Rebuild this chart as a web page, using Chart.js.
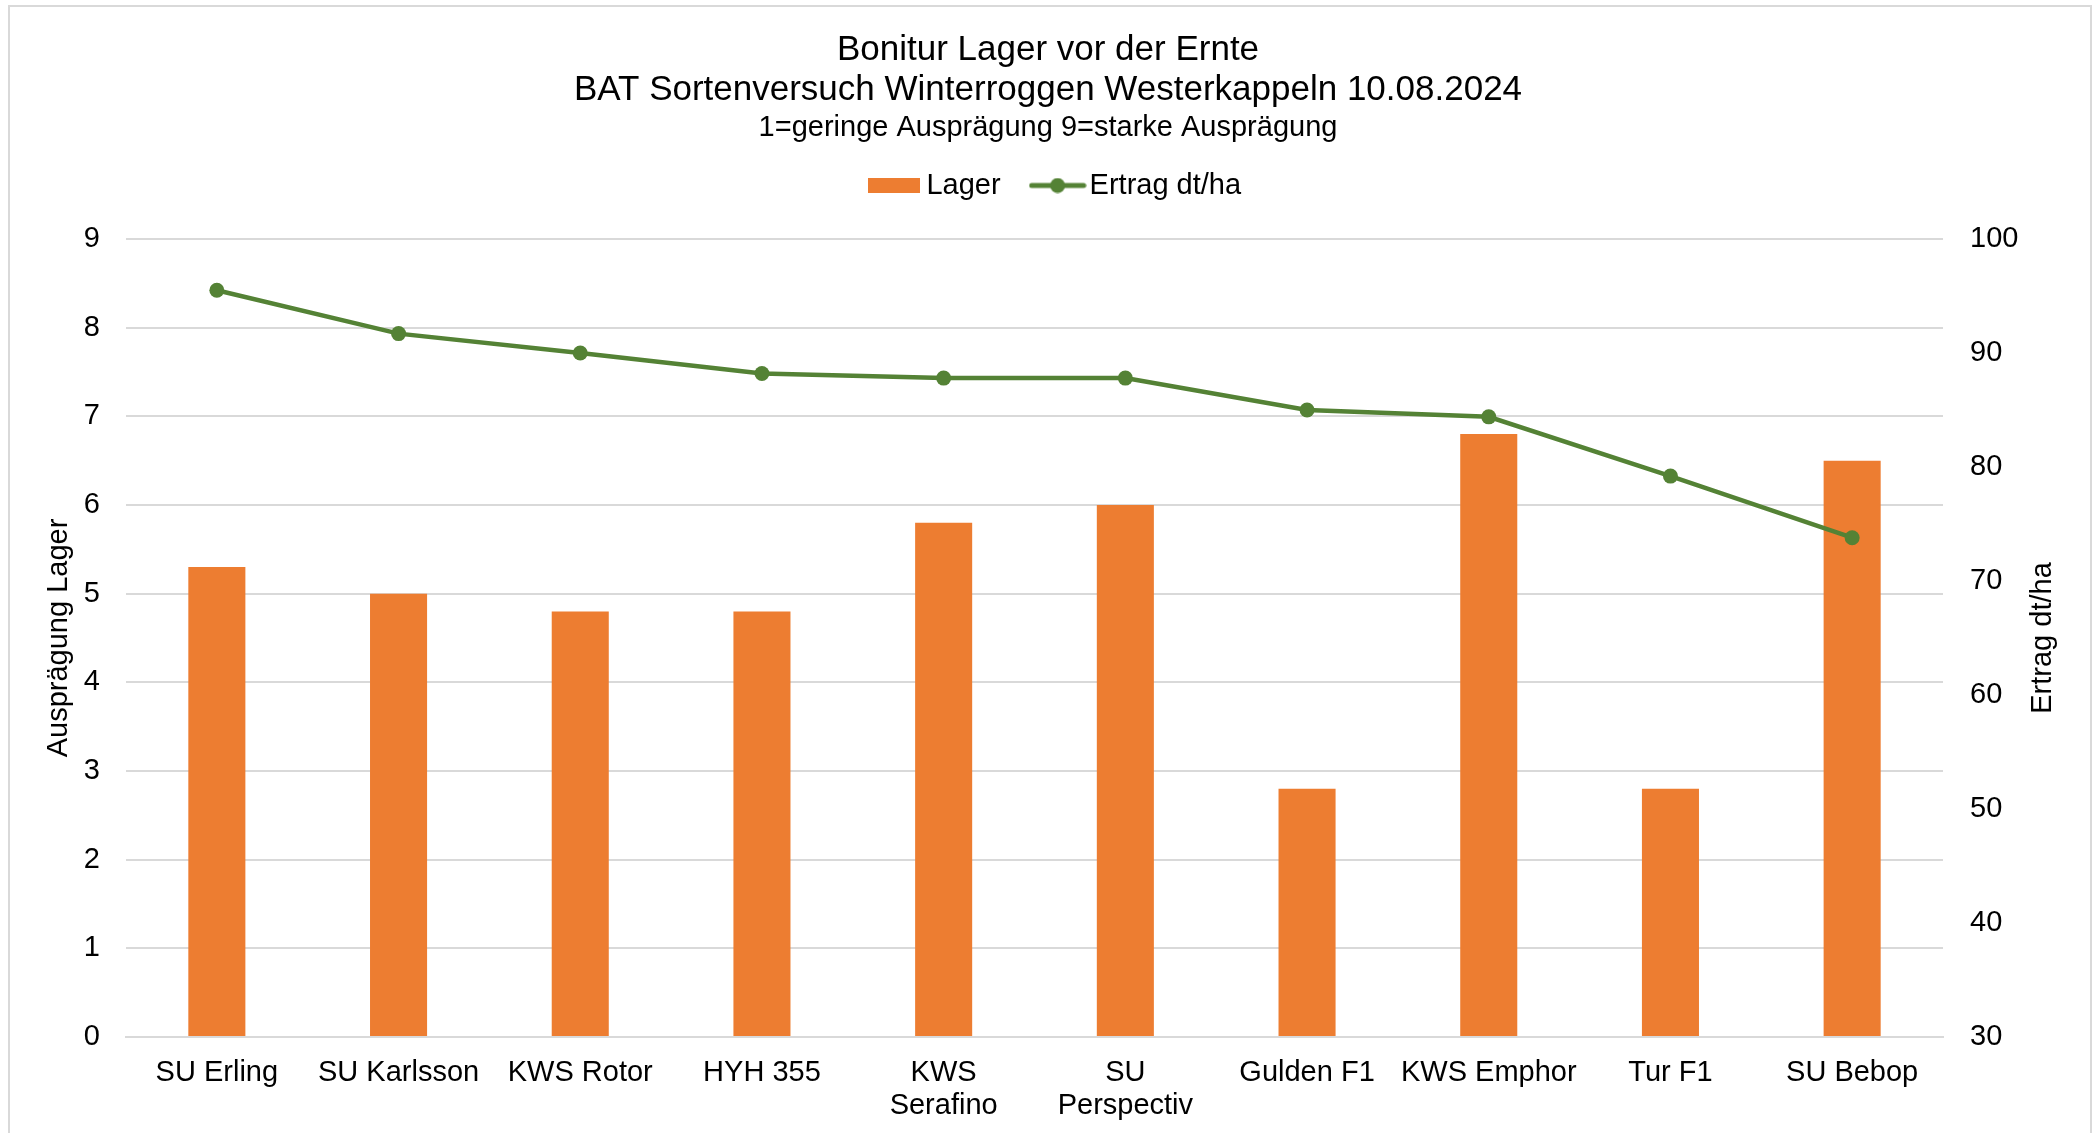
<!DOCTYPE html>
<html lang="de">
<head>
<meta charset="utf-8">
<title>Bonitur Lager vor der Ernte</title>
<script src="https://cdn.jsdelivr.net/npm/chart.js@4.4.1/dist/chart.umd.min.js"></script>
<style>
    html, body { margin: 0; padding: 0; background: #fff; }
    #wrap { width: 2096px; height: 1133px; position: relative; }
</style>
</head>
<body>
<div id="wrap"><canvas id="lagerChart"></canvas></div>
<script>
// Sorten (x-Achse)
const sorten = ['SU Erling', 'SU Karlsson', 'KWS Rotor', 'HYH 355', ['KWS', 'Serafino'],
    ['SU', 'Perspectiv'], 'Gulden F1', 'KWS Emphor', 'Tur F1', 'SU Bebop'];

// Lager Bonitur (1-9)
const lager = [5.3, 5.0, 4.8, 4.8, 5.8, 6.0, 2.8, 6.8, 2.8, 6.5];

// Ertrag dt/ha
const ertrag = [95.5, 91.7, 90.0, 88.2, 87.8, 87.8, 85.0, 84.4, 79.2, 73.8];

// Achsenbeschriftungen
const lagerTicks = [0, 1, 2, 3, 4, 5, 6, 7, 8, 9];
const ertragTicks = [30, 40, 50, 60, 70, 80, 90, 100];

const FONT = '"Liberation Sans", Arial, sans-serif';
const ORANGE = '#ED7D31';
const GREEN = '#548235';
const GRID = '#D9D9D9';

document.addEventListener('DOMContentLoaded', function () {
    const ctx = document.getElementById('lagerChart').getContext('2d');

    // small legend symbols (bar box, line with marker)
    const barIcon = document.createElement('canvas');
    barIcon.width = 52; barIcon.height = 15;
    const bctx = barIcon.getContext('2d');
    bctx.fillStyle = ORANGE;
    bctx.fillRect(0, 0, 52, 15);

    const lineIcon = document.createElement('canvas');
    lineIcon.width = 58; lineIcon.height = 16;
    const lctx = lineIcon.getContext('2d');
    lctx.strokeStyle = GREEN;
    lctx.lineWidth = 5;
    lctx.lineCap = 'round';
    lctx.beginPath(); lctx.moveTo(3, 8); lctx.lineTo(55, 8); lctx.stroke();
    lctx.fillStyle = GREEN;
    lctx.beginPath(); lctx.arc(29, 8, 7.5, 0, Math.PI * 2); lctx.fill();

    // border round the whole chart + right axis title (reads bottom to top)
    const extras = {
        id: 'extras',
        beforeInit(chart) {
            const legend = chart.legend;
            const fit = legend.fit;
            legend.fit = function () {
                fit.call(legend);
                this.height += 29;
            };
        },
        afterLayout(chart) {
            // nudge legend a little to the right
            chart.legend.left += 11;
            chart.legend.right += 11;
        },
        beforeDraw(chart) {
            const c = chart.ctx;
            c.save();
            c.strokeStyle = GRID;
            c.lineWidth = 2;
            c.strokeRect(9, 6, 2082, 1200);
            c.restore();
        },
        afterDraw(chart) {
            const c = chart.ctx;
            const area = chart.chartArea;
            c.save();
            c.translate(2043, (area.top + area.bottom) / 2);
            c.rotate(-Math.PI / 2);
            c.font = '29px ' + FONT;
            c.fillStyle = '#000';
            c.textAlign = 'center';
            c.textBaseline = 'middle';
            c.fillText('Ertrag dt/ha', 0, 0);
            c.restore();
        }
    };

    const chartData = {
        labels: sorten,
        datasets: [
            {
                type: 'bar',
                label: 'Lager',
                data: lager,
                backgroundColor: ORANGE,
                yAxisID: 'y',
                order: 2,
                categoryPercentage: 1,
                barPercentage: 0.314
            },
            {
                type: 'line',
                label: 'Ertrag dt/ha',
                data: ertrag,
                borderColor: GREEN,
                backgroundColor: GREEN,
                borderWidth: 4.5,
                pointRadius: 7.5,
                pointHoverRadius: 7.5,
                pointBorderWidth: 0,
                tension: 0,
                yAxisID: 'y1',
                order: 1
            }
        ]
    };

    const chartConfig = {
        data: chartData,
        options: {
            responsive: true,
            maintainAspectRatio: false,
            animation: false,
            devicePixelRatio: 1,
            layout: { padding: 0 },
            scales: {
                x: {
                    grid: { display: false },
                    border: { display: true, color: GRID, width: 2 },
                    ticks: {
                        color: '#000',
                        padding: 11,
                        maxRotation: 0,
                        autoSkip: false,
                        font: { family: FONT, size: 29, lineHeight: '33px' }
                    },
                    afterFit: function (s) { s.height = 96; }
                },
                y: {
                    position: 'left',
                    min: lagerTicks[0],
                    max: lagerTicks[lagerTicks.length - 1],
                    afterBuildTicks: function (s) { s.ticks = lagerTicks.map(v => ({ value: v })); },
                    grid: { color: GRID, lineWidth: 2, drawTicks: false },
                    border: { display: false },
                    ticks: {
                        color: '#000',
                        padding: 26,
                        font: { family: FONT, size: 29 }
                    },
                    title: {
                        display: true,
                        text: 'Ausprägung Lager',
                        color: '#000',
                        padding: { top: 42, bottom: 0 },
                        font: { family: FONT, size: 29 }
                    },
                    afterFit: function (s) { s.width = 126; }
                },
                y1: {
                    position: 'right',
                    min: ertragTicks[0],
                    max: ertragTicks[ertragTicks.length - 1],
                    afterBuildTicks: function (s) { s.ticks = ertragTicks.map(v => ({ value: v })); },
                    grid: { display: false, drawTicks: false },
                    border: { display: false },
                    ticks: {
                        color: '#000',
                        padding: 27,
                        font: { family: FONT, size: 29 }
                    },
                    afterFit: function (s) { s.width = 153; }
                }
            },
            plugins: {
                title: {
                    display: true,
                    text: ['Bonitur Lager vor der Ernte', 'BAT Sortenversuch Winterroggen Westerkappeln 10.08.2024'],
                    color: '#000',
                    padding: { top: 30, bottom: 0 },
                    font: { family: FONT, size: 35, weight: 'normal', lineHeight: '40px' }
                },
                subtitle: {
                    display: true,
                    text: '1=geringe Ausprägung 9=starke Ausprägung',
                    color: '#000',
                    padding: { top: 0.5, bottom: -13 },
                    font: { family: FONT, size: 29, weight: 'normal', lineHeight: '34px' }
                },
                legend: {
                    display: true,
                    position: 'top',
                    labels: {
                        usePointStyle: true,
                        pointStyleWidth: 35,
                        padding: 39.5,
                        color: '#000',
                        font: { family: FONT, size: 29 },
                        generateLabels: function () {
                            return [
                                { text: 'Lager', pointStyle: barIcon, fontColor: '#000', datasetIndex: 0, hidden: false, lineWidth: 0 },
                                { text: 'Ertrag dt/ha', pointStyle: lineIcon, fontColor: '#000', datasetIndex: 1, hidden: false, lineWidth: 0 }
                            ];
                        }
                    }
                },
                tooltip: { enabled: false }
            }
        },
        plugins: [extras]
    };

    // Render the chart
    new Chart(ctx, chartConfig);
});
</script>
</body>
</html>
